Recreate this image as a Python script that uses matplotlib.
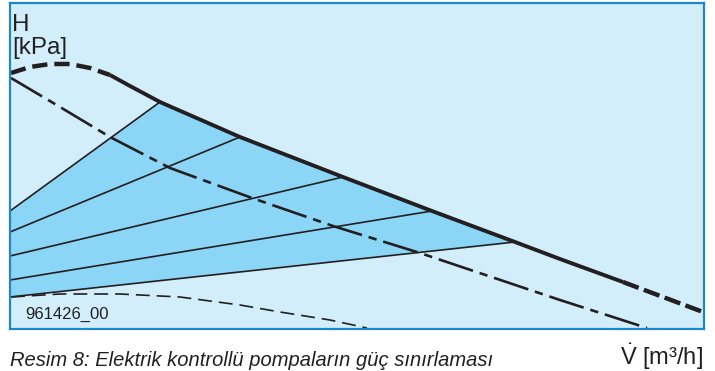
import numpy as np
import matplotlib
matplotlib.use("Agg")
import matplotlib.pyplot as plt

plt.rcParams['font.family'] = ['Liberation Sans', 'DejaVu Sans']
plt.rcParams['mathtext.fontset'] = 'custom'
plt.rcParams['mathtext.rm'] = 'Liberation Sans'
plt.rcParams['lines.scale_dashes'] = False

# Curves (flow Q, head H in chart units)
max_q = [1, 20, 40, 60, 80, 100, 120, 150, 230, 333, 422, 505, 550, 613, 693]
max_h = [256, 262, 265, 265, 261, 254, 243, 227, 192, 152, 118, 87, 70, 47, 17]

dd_q = [1, 50, 100, 160, 242, 323, 410, 550, 637]
dd_h = [251, 222, 192, 161, 131, 103, 76, 29, 1]

low_q = [1, 50, 110, 170, 230, 270, 320, 357]
low_h = [32, 35, 35, 32, 24, 17, 9, 1]

# power-limited lines: start on left axis, end on the max curve
fan_h0 = [118, 97, 73, 49, 32]
fan_q1 = [150, 230, 333, 422, 505]
fan_h1 = [227, 192, 152, 118, 87]

bg = '#d3eefb'
fill = '#8bd6f6'
edge = '#1e87c8'
ink = '#231f20'

fig = plt.figure(figsize=(7.15, 3.71), dpi=100)
ax = fig.add_axes([10/715, 42/371, 694/715, 326/371])
ax.set_xlim(0, 694)
ax.set_ylim(0, 326)
ax.set_facecolor(bg)
for s in ax.spines.values():
    s.set_color(edge)
    s.set_linewidth(1.6)
ax.set_xticks([])
ax.set_yticks([])

# shaded zone between lowest fan line and max curve
mq = np.array(max_q)
mh = np.array(max_h)
sel = (mq >= fan_q1[0]) & (mq <= fan_q1[-1])
poly_q = [0, 0] + list(mq[sel]) + [0]
poly_h = [fan_h0[-1], fan_h0[0]] + list(mh[sel]) + [fan_h0[-1]]
ax.fill(poly_q, poly_h, color=fill, lw=0)

for h0, q1, h1 in zip(fan_h0, fan_q1, fan_h1):
    ax.plot([0, q1], [h0, h1], color=ink, lw=1.2)

# max curve: dashed at both ends, solid in the middle
ax.plot(max_q[:6], max_h[:6], color=ink, lw=3.2, ls=(0, (11, 5)))
ax.plot(max_q[5:14], max_h[5:14], color=ink, lw=2.8, solid_capstyle='butt')
ax.plot(max_q[13:], max_h[13:], color=ink, lw=3.2, ls=(0, (12, 4)))

ax.plot(dd_q, dd_h, color=ink, lw=1.9, ls=(0, (26, 5, 6, 5)))
ax.plot(low_q, low_h, color=ink, lw=1.2, ls=(0, (10, 5)))

fig.text(12/715, 1 - 31/371, 'H', fontsize=17.5, color=ink, va='baseline')
fig.text(12/715, 1 - 54/371, '[kPa]', fontsize=17.5, color=ink, va='baseline')
fig.text(25/715, 1 - 319/371, '961426_00', fontsize=12, color=ink, va='baseline')
fig.text(703/715, 6/371, r'$\dot{\mathrm{V}}$ [m³/h]', fontsize=17, color=ink,
         ha='right', va='baseline')
fig.text(10/715, 5/371, 'Resim 8: Elektrik kontrollü pompaların güç sınırlaması',
         fontsize=14.5, style='italic', color=ink, va='baseline')

fig.savefig('out.png', dpi=100, facecolor='white')
